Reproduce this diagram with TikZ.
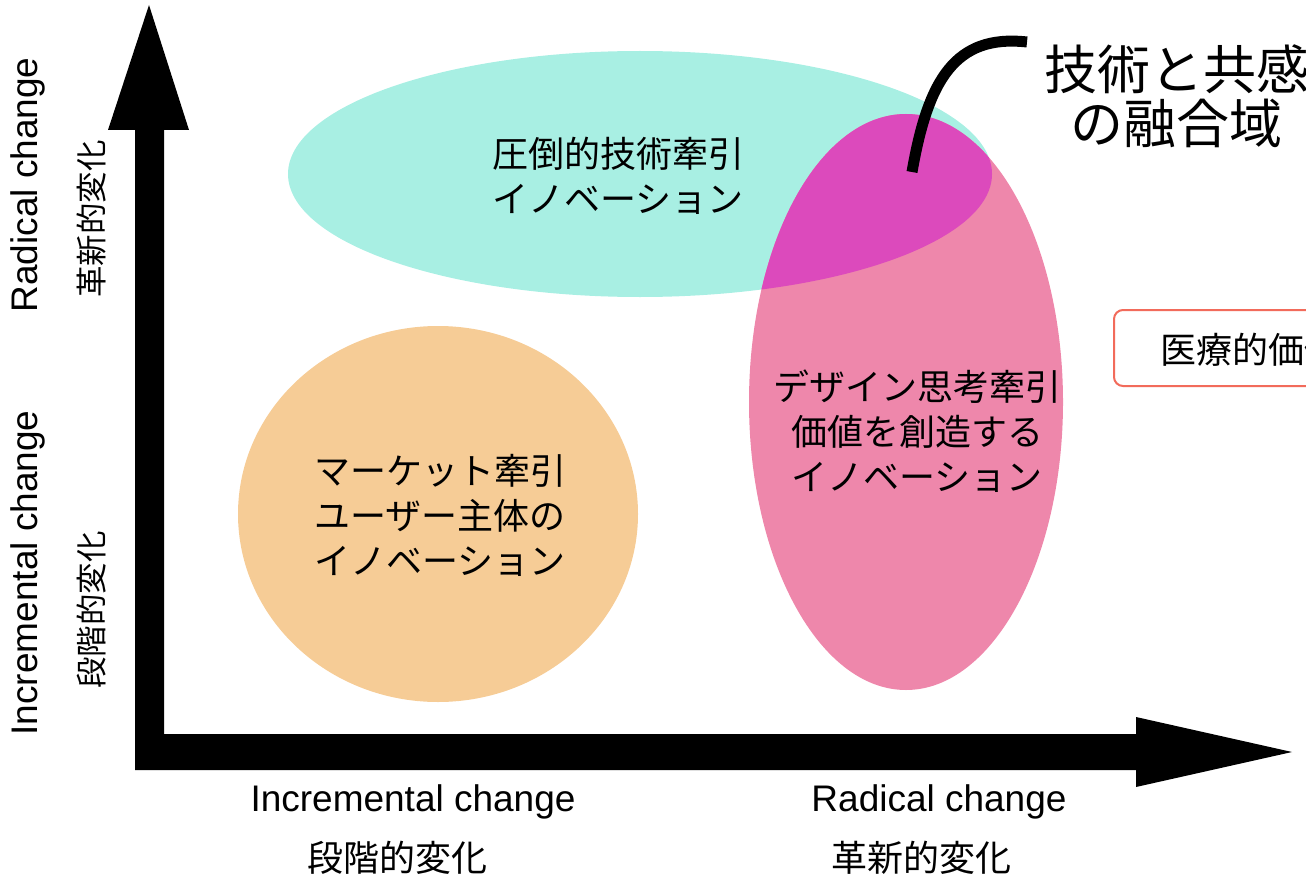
\documentclass[tikz,border=0pt]{standalone}
\usepackage{fontspec}
\setmainfont{Liberation Sans}
\newfontfamily\jp{Noto Sans CJK JP}
\definecolor{cyanfill}{HTML}{A8EFE3}
\definecolor{orangefill}{HTML}{F6CC96}
\definecolor{pinkfill}{HTML}{EE87AB}
\definecolor{overlapfill}{HTML}{DC4ABC}
\definecolor{boxline}{HTML}{F26B5B}
\tikzset{
  jptext/.style={font=\jp\fontsize{36}{45}\selectfont, align=center, inner sep=0pt},
  entext/.style={font=\fontsize{37}{44}\selectfont, inner sep=0pt},
  jpaxis/.style={font=\jp\fontsize{36}{40}\selectfont, inner sep=0pt},
  axisshape/.style={fill=black},
}
\begin{document}
\begin{tikzpicture}[x=1pt,y=-1pt]
\useasboundingbox (0,0) rectangle (1306,880);
\clip (0,0) rectangle (1306,880);
% blobs
\fill[cyanfill] (640,174) ellipse [x radius=352pt, y radius=123pt];
\fill[orangefill] (438,514) ellipse [x radius=200pt, y radius=188pt];
\fill[pinkfill] (906,402) ellipse [x radius=157pt, y radius=288pt];
\begin{scope}
  \clip (640,174) ellipse [x radius=352pt, y radius=123pt];
  \fill[overlapfill] (906,402) ellipse [x radius=157pt, y radius=288pt];
\end{scope}
% blob labels
\node[jptext] (tech) at (618,176) {圧倒的技術牽引\\イノベーション};
\node[jptext] (design) at (917,431) {デザイン思考牽引\\価値を創造する\\イノベーション};
\node[jptext] (market) at (440,515) {マーケット牽引\\ユーザー主体の\\イノベーション};
% axes
\fill[axisshape] (149,5) -- (189,130) -- (164,130) -- (164,734) -- (1136,734)
  -- (1136,717) -- (1292,752) -- (1136,787) -- (1136,770) -- (135,770)
  -- (135,130) -- (108,130) -- cycle;
% axis labels
\node[entext] (xinc) at (413,802) {Incremental change};
\node[jpaxis] (xincj) at (397,858) {段階的変化};
\node[entext] (xrad) at (939,802) {Radical change};
\node[jpaxis] (xradj) at (921,858) {革新的変化};
\node[entext, rotate=90] (yrad) at (28,185) {Radical change};
\node[entext, rotate=90] (yinc) at (28,573) {Incremental change};
\node[jpaxis, rotate=90, font=\jp\fontsize{31.5}{36}\selectfont] (yradj) at (92,219) {革新的変化};
\node[jpaxis, rotate=90, font=\jp\fontsize{31.5}{36}\selectfont] (yincj) at (92,610) {段階的変化};
% fusion label and callout
\node[font=\jp\fontsize{53}{54}\selectfont, align=center, inner sep=0pt, anchor=north west] (fusion) at (1044,44) {技術と共感\\の融合域};
\coordinate (cstart) at (1027,42);
\coordinate (cend) at (912,172);
\draw[line width=11pt] (cstart) .. controls (955,34) and (928,80) .. (cend);
% medical value box
\draw[boxline, line width=2pt, rounded corners=9pt] (1114,310) rectangle (1400,386);
\node[font=\jp\fontsize{36}{40}\selectfont, inner sep=0pt, anchor=west] (medical) at (1160,350) {医療的価値};
\end{tikzpicture}
\end{document}
